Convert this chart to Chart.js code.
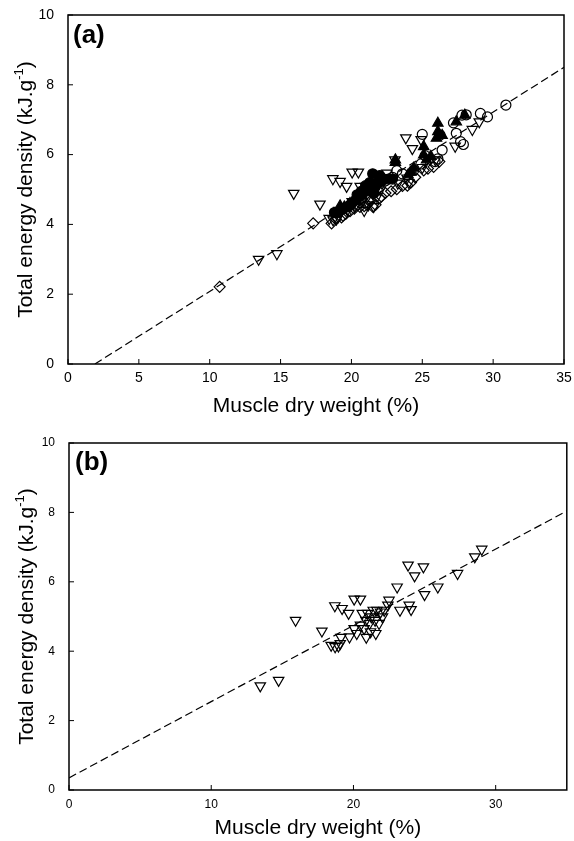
<!DOCTYPE html>
<html>
<head>
<meta charset="utf-8">
<script src="https://cdn.jsdelivr.net/npm/chart.js@4.4.0/dist/chart.umd.min.js"></script>
<style>
  html, body { margin: 0; padding: 0; background: #fff; }
  canvas { display: block; }
</style>
</head>
<body>
<canvas id="chartA" width="574" height="420"></canvas>
<canvas id="chartB" width="574" height="421"></canvas>
<script>
// open down-triangles (same fish in both panels)
const triX = [13.45, 14.74, 15.93, 17.78, 18.43, 18.71, 18.94, 19.07, 19.12, 18.69, 19.2, 19.66, 19.72, 20.05, 20.49, 20.05,
    20.23, 20.49, 20.62, 20.75, 20.88, 21.0, 21.13, 21.26, 21.39, 21.52, 21.65, 21.57, 21.9, 22.04, 22.16, 22.42,
    22.5, 23.07, 23.27, 23.84, 23.92, 24.05, 24.3, 24.92, 25.0, 25.93, 27.32, 28.53, 29.02, 21.2, 21.8, 20.9];
const triY = [3.00, 3.16, 4.89, 4.58, 4.17, 4.13, 4.15, 4.22, 4.40, 5.31, 5.23, 5.09, 4.41, 5.50, 5.50, 4.65,
    4.51, 4.75, 5.09, 4.65, 4.89, 5.09, 4.80, 4.99, 5.18, 4.89, 5.18, 4.51, 5.13, 4.99, 5.18, 5.33,
    5.47, 5.85, 5.18, 6.48, 5.33, 5.20, 6.17, 6.43, 5.63, 5.85, 6.24, 6.72, 6.94, 4.56, 4.80, 4.40];

// open diamonds
const diaX = [10.7, 17.3, 18.6, 18.9, 19.3, 19.6, 19.9, 20.2, 20.6, 20.9, 21.1, 21.5, 21.7, 22.1, 22.4, 22.8,
    23.2, 23.6, 23.95, 24.2, 24.5, 25.1, 25.4, 25.8, 26.2, 22.0, 21.3, 20.4, 19.4];
const diaY = [2.21, 4.03, 4.03, 4.15, 4.20, 4.30, 4.38, 4.45, 4.50, 4.52, 4.56, 4.51, 4.56, 4.80, 4.90, 4.95,
    5.01, 5.10, 5.11, 5.20, 5.35, 5.55, 5.60, 5.65, 5.80, 4.75, 4.65, 4.55, 4.25];

// open circles
const ocX = [30.9, 29.6, 29.1, 28.1, 27.8, 27.4, 27.7, 27.9, 27.2, 26.4, 26.25, 25.0, 25.2, 24.9, 26.1, 23.6,
    23.2, 25.9, 22.9, 22.4, 21.9, 24.4];
const ocY = [7.42, 7.08, 7.18, 7.14, 7.13, 6.61, 6.37, 6.29, 6.91, 6.13, 6.56, 6.58, 5.97, 5.73, 5.88, 5.45,
    5.54, 5.80, 5.35, 5.25, 5.20, 5.55];

// filled circles
const fcX = [18.8, 19.1, 19.4, 19.7, 20.0, 20.3, 20.6, 20.8, 21.0, 21.2, 21.4, 21.5, 21.7, 21.9, 22.1, 22.3,
    22.6, 22.9, 21.0, 20.7, 21.3, 20.4, 19.9, 22.0, 21.6];
const fcY = [4.34, 4.35, 4.45, 4.50, 4.60, 4.70, 4.80, 4.90, 4.95, 5.00, 5.05, 5.45, 5.10, 5.20, 5.25, 5.30,
    5.30, 5.30, 5.11, 4.95, 5.20, 4.85, 4.55, 5.40, 4.90];

// filled up-triangles
const ftX = [28.0, 27.4, 26.1, 26.1, 26.0, 25.1, 25.1, 25.3, 24.4, 24.0, 23.1, 23.1, 19.2, 19.5, 19.9, 20.3,
    20.7, 21.1, 24.2, 25.6, 26.4];
const ftY = [7.13, 6.94, 6.90, 6.66, 6.47, 6.23, 5.99, 5.85, 5.61, 5.42, 5.85, 5.78, 4.53, 4.50, 4.60, 4.70,
    4.85, 4.95, 5.50, 5.95, 6.55];

// regression lines
const fitAX = [1.9, 35];
const fitAY = [0, 8.5];
const fitBX = [0, 35];
const fitBY = [0.35, 8.04];

const FONT = '"Liberation Sans", Arial, Helvetica, sans-serif';
Chart.defaults.font.family = FONT;
Chart.defaults.color = '#000';

function pts(xs, ys) {
    return xs.map((x, i) => ({ x: x, y: ys[i] }));
}

function markers(xs, ys, style, filled, radius, rotation) {
    return {
        data: pts(xs, ys),
        pointStyle: style,
        pointRadius: radius,
        pointRotation: rotation || 0,
        pointBorderWidth: 1.2,
        pointBorderColor: '#000',
        pointBackgroundColor: filled ? '#000' : 'rgba(0,0,0,0)',
        showLine: false
    };
}

function fitLine(xs, ys) {
    return {
        data: pts(xs, ys),
        showLine: true,
        borderColor: '#000',
        borderWidth: 1.2,
        borderDash: [8, 4],
        pointRadius: 0,
        fill: false
    };
}

// box round the plot area + inward ticks on bottom and left
const framePlugin = {
    id: 'frame',
    afterDatasetsDraw(chart) {
        const { ctx, chartArea: a, scales } = chart;
        ctx.save();
        ctx.strokeStyle = '#000';
        ctx.lineWidth = 1.5;
        ctx.strokeRect(a.left, a.top, a.right - a.left, a.bottom - a.top);
        ctx.lineWidth = 1;
        scales.x.ticks.forEach(t => {
            const px = scales.x.getPixelForValue(t.value);
            ctx.beginPath();
            ctx.moveTo(px, a.bottom);
            ctx.lineTo(px, a.bottom - 5);
            ctx.stroke();
        });
        scales.y.ticks.forEach(t => {
            const py = scales.y.getPixelForValue(t.value);
            ctx.beginPath();
            ctx.moveTo(a.left, py);
            ctx.lineTo(a.left + 5, py);
            ctx.stroke();
        });
        ctx.restore();
    }
};

// panel letter and y title with superscript
const labelsPlugin = {
    id: 'labels',
    afterDraw(chart, args, opts) {
        const { ctx, chartArea: a } = chart;
        ctx.save();
        ctx.fillStyle = '#000';
        ctx.font = 'bold ' + opts.letterSize + 'px ' + FONT;
        ctx.textBaseline = 'middle';
        ctx.textAlign = 'left';
        ctx.fillText(opts.letter, a.left + opts.letterDx, a.top + opts.letterDy);

        const size = opts.titleSize;
        const supSize = Math.round(size * 0.62);
        const main = 'Total energy density (kJ.g';
        const sup = '-1';
        const tail = ')';
        ctx.font = size + 'px ' + FONT;
        const w1 = ctx.measureText(main).width;
        const w3 = ctx.measureText(tail).width;
        ctx.font = supSize + 'px ' + FONT;
        const w2 = ctx.measureText(sup).width;
        const total = w1 + w2 + w3;
        ctx.translate(opts.titleX, (a.top + a.bottom) / 2);
        ctx.rotate(-Math.PI / 2);
        ctx.textBaseline = 'alphabetic';
        const base = size * 0.36;
        let x = -total / 2;
        ctx.font = size + 'px ' + FONT;
        ctx.fillText(main, x, base);
        x += w1;
        ctx.font = supSize + 'px ' + FONT;
        ctx.fillText(sup, x, base - size * 0.42);
        x += w2;
        ctx.font = size + 'px ' + FONT;
        ctx.fillText(tail, x, base);
        ctx.restore();
    }
};

function makeChart(id, datasets, cfg) {
    return new Chart(document.getElementById(id), {
        type: 'scatter',
        data: { datasets: datasets },
        options: {
            responsive: false,
            animation: false,
            events: [],
            layout: { padding: { top: cfg.top, right: cfg.right, left: 0, bottom: 0 } },
            plugins: {
                legend: { display: false },
                tooltip: { enabled: false },
                labels: cfg.labels
            },
            scales: {
                x: {
                    type: 'linear',
                    min: 0,
                    max: 35,
                    grid: { display: false },
                    border: { display: false },
                    ticks: { stepSize: cfg.xStep, padding: cfg.xPad, color: '#000', font: { size: cfg.xTickSize } },
                    title: {
                        display: true,
                        text: 'Muscle dry weight (%)',
                        color: '#000',
                        font: { size: 21 },
                        padding: { top: 0, bottom: cfg.titlePad }
                    },
                    afterBuildTicks(scale) {
                        scale.ticks = scale.ticks.filter(t => t.value % cfg.xStep === 0);
                    },
                    afterFit(scale) { scale.height = cfg.xHeight; }
                },
                y: {
                    type: 'linear',
                    min: 0,
                    max: 10,
                    grid: { display: false },
                    border: { display: false },
                    ticks: { stepSize: 2, padding: cfg.yPad, color: '#000', font: { size: cfg.yTickSize } },
                    afterFit(scale) { scale.width = cfg.yWidth; }
                }
            }
        },
        plugins: [framePlugin, labelsPlugin]
    });
}

makeChart('chartA', [
    fitLine(fitAX, fitAY),
    markers(diaX, diaY, 'rectRot', false, 5.5),
    markers(triX, triY, 'triangle', false, 6, 180),
    markers(ocX, ocY, 'circle', false, 5),
    markers(fcX, fcY, 'circle', true, 5),
    markers(ftX, ftY, 'triangle', true, 6)
], {
    top: 15, right: 10, xHeight: 56, yWidth: 68, xStep: 5, xPad: -2, yPad: 6, xTickSize: 14, yTickSize: 14, titlePad: 1,
    labels: { letter: '(a)', letterSize: 26, letterDx: 5, letterDy: 21, titleSize: 21, titleX: 24 }
});

makeChart('chartB', [
    fitLine(fitBX, fitBY),
    markers(triX, triY, 'triangle', false, 6, 180)
], {
    top: 23, right: 7, xHeight: 51, yWidth: 69, xStep: 10, xPad: -1, yPad: 6, xTickSize: 12, yTickSize: 12, titlePad: 0,
    labels: { letter: '(b)', letterSize: 26, letterDx: 6, letterDy: 20, titleSize: 21, titleX: 25 }
});
</script>
</body>
</html>
